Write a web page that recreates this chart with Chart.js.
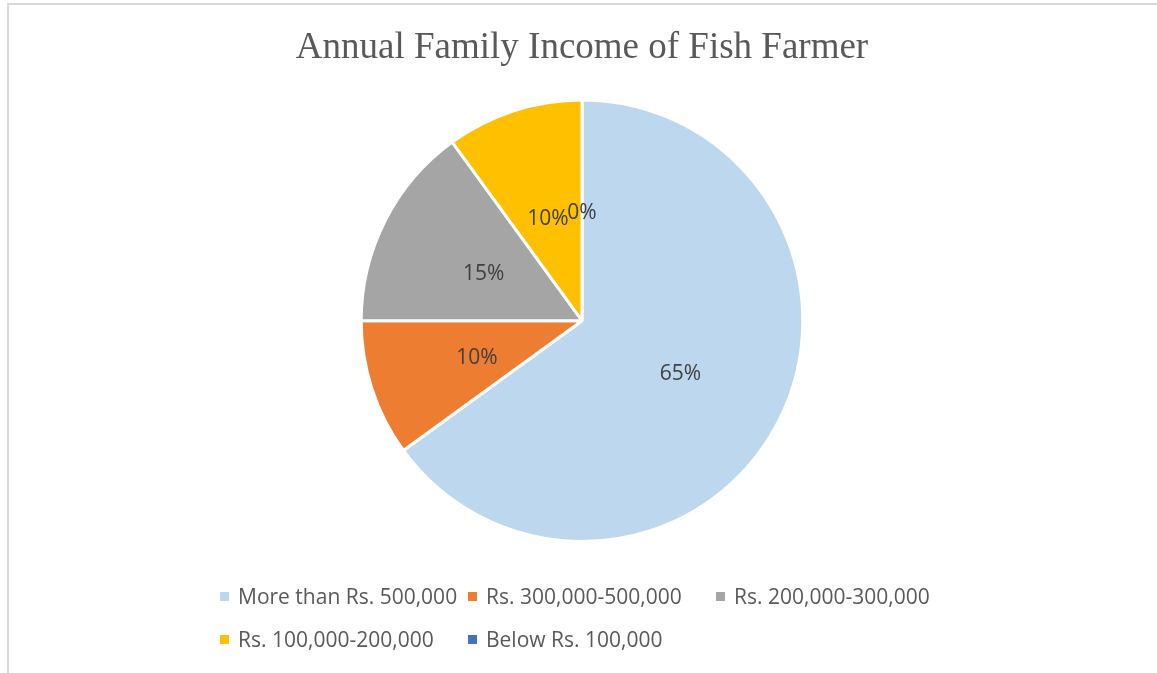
<!DOCTYPE html>
<html>
<head>
<meta charset="utf-8">
<script src="https://cdn.jsdelivr.net/npm/chart.js@4.4.0/dist/chart.umd.min.js"></script>
<style>
  html, body { margin: 0; padding: 0; background: #fff; }
  #wrap { position: relative; width: 1157px; height: 673px; overflow: hidden; }
  #frame { position: absolute; left: 7px; top: 3px; width: 1200px; height: 720px; border: 2px solid #d9d9d9; box-sizing: border-box; }
  #myChart { position: absolute; left: 0; top: 0; }
  #legend { position: absolute; left: 220px; top: 582px; display: grid; grid-template-columns: 248px 248px 248px; row-gap: 15px; font: 21px "Open Sans", sans-serif; color: #595959; }
  #legend .item { display: flex; align-items: center; height: 28px; white-space: nowrap; }
  #legend .box { width: 9px; height: 9px; margin-right: 9px; flex: none; }
</style>
</head>
<body>
<div id="wrap">
  <div id="frame"></div>
  <canvas id="myChart" width="1157" height="673"></canvas>
  <div id="legend"></div>
</div>
<script>
const title = "Annual Family Income of Fish Farmer";
const categories = ["More than Rs. 500,000", "Rs. 300,000-500,000", "Rs. 200,000-300,000", "Rs. 100,000-200,000", "Below Rs. 100,000"];
const shares = [65, 10, 15, 10, 0];
const colors = ["#BDD7EE", "#ED7D31", "#A5A5A5", "#FFC000", "#4472C4"];

// percentage labels drawn at the middle of each slice
const sliceLabels = {
  id: 'sliceLabels',
  afterDatasetsDraw(chart) {
    const {ctx} = chart;
    const data = chart.data.datasets[0].data;
    const total = data.reduce((a, b) => a + b, 0);
    ctx.save();
    ctx.font = '21px "Open Sans", sans-serif';
    ctx.fillStyle = '#404040';
    ctx.textAlign = 'center';
    ctx.textBaseline = 'middle';
    chart.getDatasetMeta(0).data.forEach((arc, i) => {
      const {startAngle, endAngle, outerRadius, x, y} = arc.getProps(['startAngle', 'endAngle', 'outerRadius', 'x', 'y'], true);
      const mid = (startAngle + endAngle) / 2;
      const r = outerRadius * 0.5;
      const txt = Math.round(data[i] / total * 100) + '%';
      ctx.fillText(txt, x + Math.cos(mid) * r, y + Math.sin(mid) * r + 3);
    });
    ctx.restore();
  }
};

const chart = new Chart(document.getElementById("myChart"), {
  type: "pie",
  data: {
    labels: categories,
    datasets: [{
      data: shares,
      backgroundColor: colors,
      borderColor: "#ffffff",
      borderWidth: 3,
    }],
  },
  options: {
    responsive: false,
    animation: false,
    layout: { padding: { left: 7, right: 0, top: 0, bottom: 130 } },
    plugins: {
      legend: { display: false },
      tooltip: { enabled: false },
      title: {
        display: true,
        text: title,
        color: "#595959",
        font: { family: "Liberation Serif", size: 37, weight: "normal", lineHeight: 1.2 },
        padding: { top: 26, bottom: 28 },
      },
    },
  },
  plugins: [sliceLabels],
});

// legend laid out in columns below the pie
const legend = document.getElementById("legend");
categories.forEach((name, i) => {
  const item = document.createElement("div");
  item.className = "item";
  const box = document.createElement("span");
  box.className = "box";
  box.style.background = colors[i];
  item.appendChild(box);
  item.appendChild(document.createTextNode(name));
  legend.appendChild(item);
});
</script>
</body>
</html>
